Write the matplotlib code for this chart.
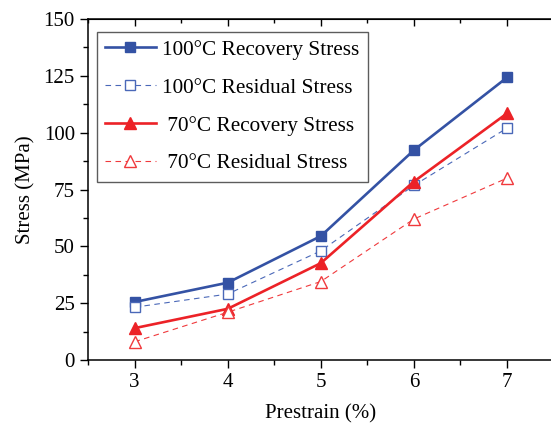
import numpy as np
import matplotlib
matplotlib.use('Agg')
import matplotlib.pyplot as plt
from matplotlib.ticker import MultipleLocator

plt.rcParams['font.family'] = 'Liberation Serif'
plt.rcParams['mathtext.fontset'] = 'stix'

prestrain = [3, 4, 5, 6, 7]
rec_100 = [25.5, 34.0, 54.5, 92.3, 124.3]
res_100 = [23.2, 29.0, 48.0, 76.8, 102.0]
rec_70 = [14.0, 22.5, 42.6, 78.5, 108.5]
res_70 = [8.0, 21.0, 34.5, 62.0, 80.0]

blue = '#3452a4'
blue_l = '#4a68b8'
red = '#ec2227'
red_l = '#f0393c'

fig = plt.figure(figsize=(5.51, 4.23), dpi=100)
ax = fig.add_axes([0.1597, 0.149, 0.845, 0.806])

p1, = ax.plot(prestrain, rec_100, '-', color=blue, lw=1.9, marker='s', ms=6.5)
p2, = ax.plot(prestrain, res_100, '--', color=blue_l, lw=0.8, marker='s', ms=6.5,
              mfc='white', mec=blue_l, mew=1.0, dashes=(5, 4))
p3, = ax.plot(prestrain, rec_70, '-', color=red, lw=1.9, marker='^', ms=9)
p4, = ax.plot(prestrain, res_70, '--', color=red_l, lw=0.8, marker='^', ms=9,
              mfc='white', mec=red_l, mew=1.0, dashes=(5, 4))

ax.set_xlim(2.5, 7.5)
ax.set_ylim(0, 150)
ax.xaxis.set_major_locator(MultipleLocator(1))
ax.xaxis.set_minor_locator(MultipleLocator(0.5))
ax.yaxis.set_major_locator(MultipleLocator(25))
ax.yaxis.set_minor_locator(MultipleLocator(12.5))
ax.tick_params(which='both', direction='out', labelsize=15, width=1)
ax.tick_params(which='major', length=6)
ax.tick_params(which='minor', length=3.5)
ax.spines['right'].set_visible(False)
for s in ['left', 'bottom', 'top']:
    ax.spines[s].set_linewidth(1.1)

top = ax.secondary_xaxis('top')
top.xaxis.set_major_locator(MultipleLocator(1))
top.xaxis.set_minor_locator(MultipleLocator(0.5))
top.tick_params(which='both', direction='in', labeltop=False, width=1)
top.tick_params(which='major', length=5)
top.tick_params(which='minor', length=3)

ax.set_xlabel('Prestrain (%)', fontsize=15, labelpad=9)
ax.set_ylabel('Stress (MPa)', fontsize=15, labelpad=6)

leg = ax.legend((p1, p2, p3, p4),
                ('100°C Recovery Stress', '100°C Residual Stress',
                 ' 70°C Recovery Stress', ' 70°C Residual Stress'),
                loc='upper left', bbox_to_anchor=(0.019, 0.963), borderaxespad=0,
                fontsize=15.3, frameon=True, fancybox=False, handlelength=2.4,
                labelspacing=0.85, borderpad=0.38, handletextpad=0.3)
leg.get_frame().set_edgecolor('#333333')
leg.get_frame().set_linewidth(1.0)

plt.savefig('out.png', dpi=100)
